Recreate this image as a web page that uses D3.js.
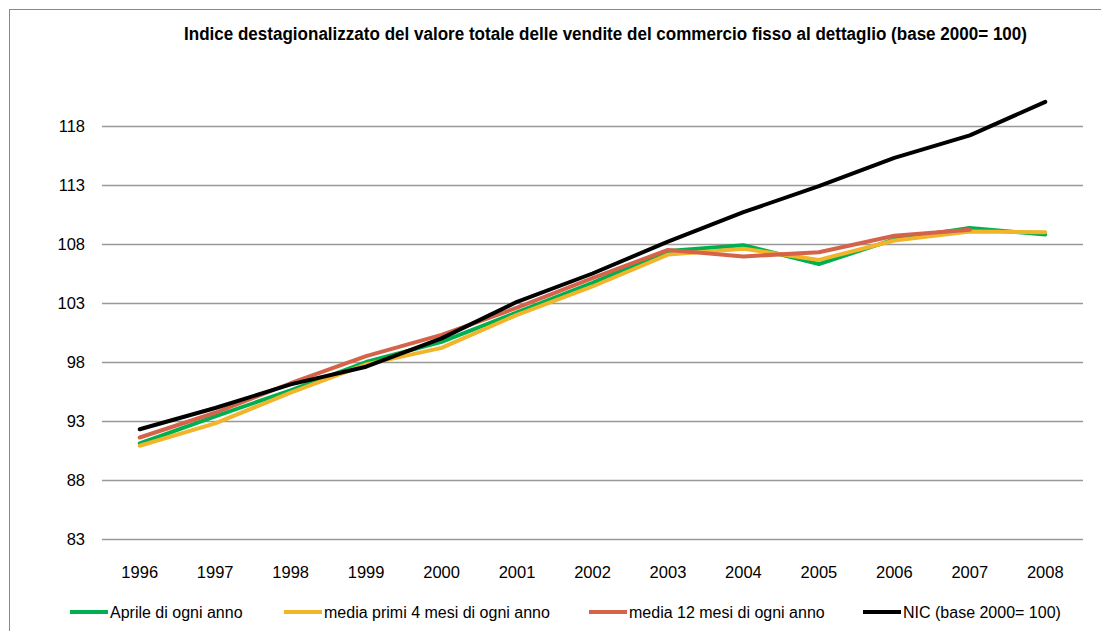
<!DOCTYPE html>
<html><head><meta charset="utf-8">
<script src="https://cdn.jsdelivr.net/npm/d3@7"></script>
<style>body{margin:0;background:#fff}svg{display:block}</style>
</head><body>
<svg id="c" width="1101" height="631"></svg>
<script>
const years = ["1996","1997","1998","1999","2000","2001","2002","2003","2004","2005","2006","2007","2008"];
const aprile = [91.1, 93.4, 95.6, 98.0, 99.7, 102.2, 104.7, 107.4, 107.9, 106.3, 108.4, 109.35, 108.8];
const primi4 = [90.9, 92.8, 95.4, 97.8, 99.2, 102.0, 104.4, 107.1, 107.6, 106.65, 108.3, 109.05, 109.0];
const media12 = [91.6, 93.7, 96.2, 98.5, 100.3, 102.6, 105.1, 107.5, 106.95, 107.3, 108.7, 109.2, null];
const nic = [92.3, 94.1, 96.1, 97.6, 100.0, 103.1, 105.5, 108.2, 110.7, 112.9, 115.3, 117.2, 120.05];
const yTicks = [83, 88, 93, 98, 103, 108, 113, 118];
const seriesNames = ["Aprile di ogni anno", "media primi 4 mesi di ogni anno", "media 12 mesi di ogni anno", "NIC (base 2000= 100)"];
const seriesColors = ["#00B050", "#F2B42A", "#D5634A", "#000000"];
const title = "Indice destagionalizzato del valore totale delle vendite del commercio fisso al dettaglio (base 2000= 100)";

(function () {
const svg = d3.select("#c");
const font = "'Liberation Sans', Arial, sans-serif";

// outer frame
svg.append("rect").attr("x", 9.5).attr("y", 9.5).attr("width", 1200).attr("height", 700)
  .attr("fill", "none").attr("stroke", "#888").attr("stroke-width", 1);

const pLeft = 102, pRight = 1083, pTop = 67, pBottom = 539;
const x = d3.scaleBand().domain(years).range([pLeft, pRight]);
const y = d3.scaleLinear().domain([83, 123]).range([pBottom, pTop]);

// gridlines
svg.append("g").selectAll("line").data(yTicks).join("line")
  .attr("x1", pLeft).attr("x2", pRight)
  .attr("y1", d => Math.round(y(d)) + 0.5).attr("y2", d => Math.round(y(d)) + 0.5)
  .attr("stroke", "#999").attr("stroke-width", 1.3);

// y labels
const yAxis = d3.axisLeft(y).tickValues(yTicks).tickSize(0).tickPadding(0);
const gy = svg.append("g").attr("transform", `translate(85,0)`).call(yAxis);
gy.select(".domain").remove();
gy.selectAll("text").attr("font-family", font).attr("font-size", 16.5).attr("fill", "#000").attr("dy", "0.35em");

// x labels
const xAxis = d3.axisBottom(x).tickSize(0).tickPadding(0);
const gx = svg.append("g").attr("transform", `translate(0,572)`).call(xAxis);
gx.select(".domain").remove();
gx.selectAll("text").attr("font-family", font).attr("font-size", 16.5).attr("fill", "#000").attr("dy", "0.35em");

// lines
const allSeries = [aprile, primi4, media12, nic];
const line = d3.line()
  .defined(d => d.v != null)
  .x(d => x(d.year) + x.bandwidth() / 2)
  .y(d => y(d.v));
allSeries.forEach((s, i) => {
  svg.append("path")
    .datum(s.map((v, j) => ({ year: years[j], v })))
    .attr("d", line)
    .attr("fill", "none")
    .attr("stroke", seriesColors[i])
    .attr("stroke-width", 4)
    .attr("stroke-linejoin", "round")
    .attr("stroke-linecap", "round");
});

// title
svg.append("text").attr("x", 184).attr("y", 40)
  .attr("font-family", "'Liberation Sans Narrow', 'Liberation Sans', Arial, sans-serif")
  .attr("font-weight", "bold").attr("font-size", 18)
  .attr("textLength", 843).attr("lengthAdjust", "spacingAndGlyphs")
  .text(title);

// legend
const legendX = [70, 284, 589, 863];
const lg = svg.append("g");
seriesNames.forEach((n, i) => {
  lg.append("line").attr("x1", legendX[i]).attr("x2", legendX[i] + 38)
    .attr("y1", 612).attr("y2", 612)
    .attr("stroke", seriesColors[i]).attr("stroke-width", 4);
  lg.append("text").attr("x", legendX[i] + 40).attr("y", 612).attr("dy", "0.35em")
    .attr("font-family", font).attr("font-size", 16).text(n);
});
})();
</script>
</body></html>
